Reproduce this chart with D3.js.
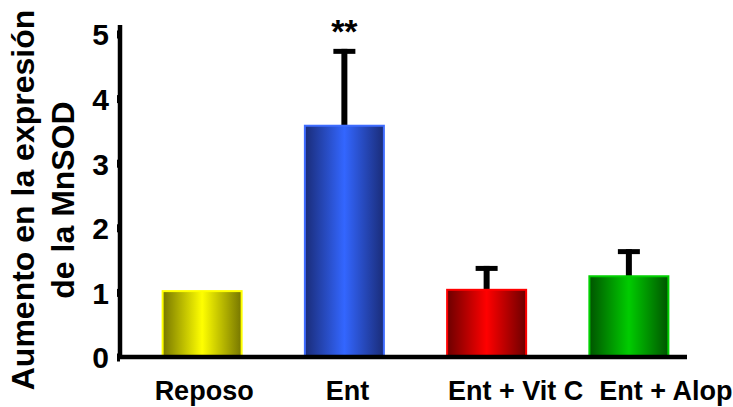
<!DOCTYPE html>
<html>
<head>
<meta charset="utf-8">
<script src="https://cdn.jsdelivr.net/npm/d3@7"></script>
<style>
  html, body { margin: 0; padding: 0; background: #fff; }
  svg { display: block; font-family: "Liberation Sans", Arial, sans-serif; font-weight: bold; }
</style>
</head>
<body>
<svg id="chart" width="733" height="407"></svg>
<script>
// Data
const categories = ["Reposo", "Ent", "Ent + Vit C", "Ent + Alop"];
const means = [1.02, 3.58, 1.04, 1.25];
const errors = [0, 1.19, 0.37, 0.42];
const significance = ["", "**", "", ""];
const yTicks = [0, 1, 2, 3, 4, 5];
const titleLines = ["Aumento en la expresión", "de la MnSOD"];

// Colour sets per bar: [edge shade, centre highlight, outline]
const palette = [
  ["#767600", "#ffff00", "#ffff00"],
  ["#1a2c78", "#3366ff", "#3f6dff"],
  ["#6c0000", "#ff0000", "#ff0000"],
  ["#005400", "#00cc00", "#00d000"]
];

const rows = categories.map((c, i) => ({
  cat: c, mean: means[i], err: errors[i], sig: significance[i], idx: i
}));

const svg = d3.select("#chart");
const x = d3.scaleBand().domain(categories).range([131, 700]).paddingInner(0.44).paddingOuter(0.22);
const y = d3.scaleLinear().domain([0, 5]).range([357, 34]);

// Cylinder-style horizontal gradients
const defs = svg.append("defs");
palette.forEach((p, i) => {
  const g = defs.append("linearGradient").attr("id", "grad" + i)
    .attr("x1", "0%").attr("x2", "100%").attr("y1", "0%").attr("y2", "0%");
  g.append("stop").attr("offset", "0%").attr("stop-color", p[0]);
  g.append("stop").attr("offset", "50%").attr("stop-color", p[1]);
  g.append("stop").attr("offset", "100%").attr("stop-color", p[0]);
});

const bw = 81;
const cx = d => x(d.cat) + x.bandwidth() / 2;
const withErr = rows.filter(d => d.err > 0);

// Error bars (upper only)
const eb = svg.append("g");
eb.selectAll("line.stem").data(withErr).join("line").attr("class", "stem")
  .attr("x1", cx).attr("x2", cx)
  .attr("y1", d => y(d.mean)).attr("y2", d => y(d.mean + d.err))
  .attr("stroke", "#000").attr("stroke-width", 6);
eb.selectAll("line.cap").data(withErr).join("line").attr("class", "cap")
  .attr("x1", d => cx(d) - 11).attr("x2", d => cx(d) + 11)
  .attr("y1", d => y(d.mean + d.err) + 2.5).attr("y2", d => y(d.mean + d.err) + 2.5)
  .attr("stroke", "#000").attr("stroke-width", 5);

// Bars
svg.append("g").selectAll("rect").data(rows).join("rect")
  .attr("x", d => cx(d) - bw / 2 + 1)
  .attr("width", bw - 2)
  .attr("y", d => y(d.mean))
  .attr("height", d => y(0) - y(d.mean))
  .attr("fill", d => `url(#grad${d.idx})`)
  .attr("stroke", d => palette[d.idx][2])
  .attr("stroke-width", 2);

// Significance marks
svg.append("g").selectAll("text").data(rows.filter(d => d.sig)).join("text")
  .attr("x", cx)
  .attr("y", d => y(d.mean + d.err) - 6)
  .attr("text-anchor", "middle")
  .attr("font-size", 34)
  .text(d => d.sig);

// Y axis
const yAxis = svg.append("g").attr("transform", "translate(120,0)")
  .call(d3.axisLeft(y).tickValues(yTicks).tickFormat(d3.format("d")).tickSize(4).tickPadding(7));
yAxis.select(".domain").remove();
yAxis.selectAll(".tick line").attr("stroke", "#000").attr("stroke-width", 8).attr("x2", -3).attr("x1", 0);
yAxis.selectAll(".tick text").attr("font-size", 30).attr("font-weight", "bold")
  .attr("font-family", "Liberation Sans, Arial, sans-serif").attr("fill", "#000").attr("dy", "0.36em");
svg.append("line").attr("x1", 120).attr("x2", 120).attr("y1", 25).attr("y2", 359)
  .attr("stroke", "#000").attr("stroke-width", 4.5);

// X axis
const xAxis = svg.append("g").attr("transform", "translate(0,357)")
  .call(d3.axisBottom(x).tickSize(0).tickPadding(24));
xAxis.select(".domain").remove();
const labelShift = [2, 3, 29, 37];
xAxis.selectAll(".tick text").attr("font-size", 27).attr("font-weight", "bold")
  .attr("font-family", "Liberation Sans, Arial, sans-serif").attr("fill", "#000")
  .attr("dx", (d, i) => labelShift[i]);
svg.append("line").attr("x1", 118).attr("x2", 687).attr("y1", 357).attr("y2", 357)
  .attr("stroke", "#000").attr("stroke-width", 4.5);

// Axis title
const title = svg.append("text")
  .attr("transform", "translate(0,200) rotate(-90)")
  .attr("text-anchor", "middle")
  .attr("font-size", 32);
title.selectAll("tspan").data(titleLines).join("tspan")
  .attr("x", 0).attr("y", (d, i) => 34 + i * 40)
  .text(d => d);
</script>
</body>
</html>
